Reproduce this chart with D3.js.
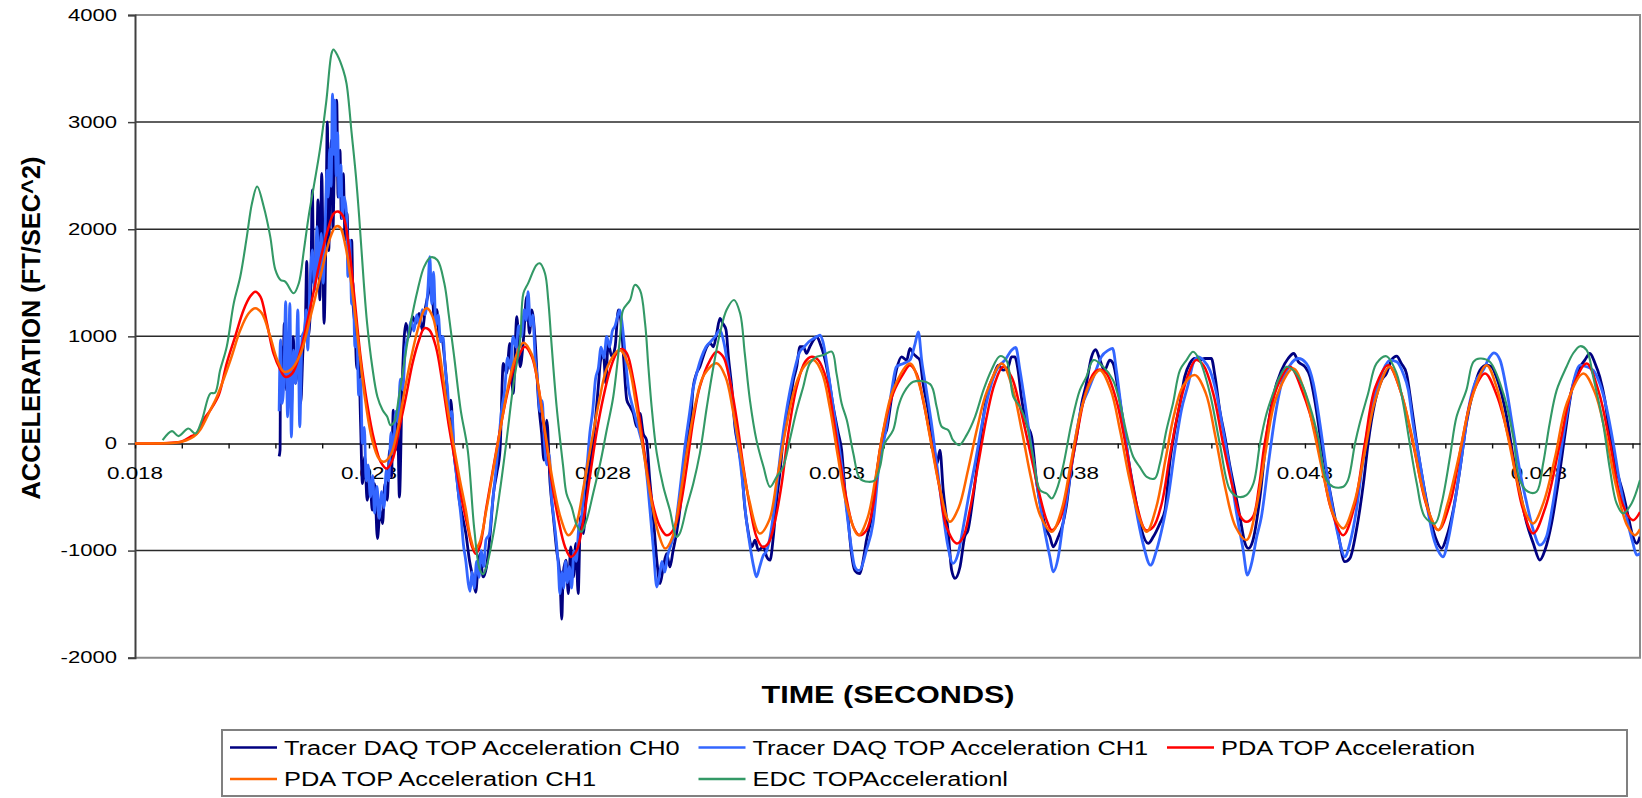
<!DOCTYPE html>
<html>
<head>
<meta charset="utf-8">
<script src="https://cdn.jsdelivr.net/npm/d3@7"></script>
<style>
  html, body { margin: 0; padding: 0; background: #ffffff; }
  svg { display: block; font-family: "Liberation Sans", Arial, Helvetica, sans-serif; }
</style>
</head>
<body>
<svg id="chart" width="1642" height="798"></svg>
<script>
// ---- axis definitions (time in milliseconds, acceleration in ft/s^2) ----
const yTickValues = [-2000, -1000, 0, 1000, 2000, 3000, 4000];
const xTickLabels = ["0.018", "0.023", "0.028", "0.033", "0.038", "0.043", "0.048"];
const xMinorTicks = d3.range(18, 50.5, 1);

const seriesNames = [
  "Tracer DAQ TOP Acceleration CH0",
  "Tracer DAQ TOP Acceleration CH1",
  "PDA TOP Acceleration",
  "PDA TOP Acceleration CH1",
  "EDC TOPAccelerationl"
];
const seriesColors = ["#000080", "#3366ff", "#ff0000", "#ff6600", "#339966"];

// ---- measured traces: [time (ms), acceleration] ----
const tracerCh0 = [
  [21.08,-120],[21.10,-60],[21.11,934],[21.16,561],[21.19,1121],[21.24,498],[21.29,748],[21.34,312],
  [21.38,997],[21.43,561],[21.48,810],[21.54,374],[21.59,872],[21.64,1121],[21.67,1700],[21.70,1000],
  [21.75,1277],[21.79,2367],[21.82,1495],[21.88,1651],[21.91,2274],[21.95,1340],[21.99,2522],[22.04,1121],
  [22.08,1962],[22.11,3002],[22.14,1800],[22.17,2500],[22.20,2831],[22.23,2000],[22.26,2600],[22.31,3205],
  [22.34,2300],[22.38,2738],[22.41,2100],[22.45,2520],[22.49,1900],[22.53,2147],[22.57,1600],[22.63,1898],
  [22.66,1300],[22.70,1100],[22.74,700],[22.78,800],[22.82,200],[22.86,-374],[22.91,-125],[22.96,-530],
  [23.02,-312],[23.07,-623],[23.12,-374],[23.18,-888],[23.24,-623],[23.29,-748],[23.34,-374],[23.39,-530],
  [23.44,-62],[23.48,-312],[23.52,312],[23.57,-62],[23.61,249],[23.65,-500],[23.71,561],[23.79,1121],
  [23.86,997],[23.93,1184],[24.00,1121],[24.07,1215],[24.14,1059],[24.21,1277],[24.29,1433],[24.34,1500],
  [24.39,1184],[24.45,1250],[24.50,997],[24.55,1000],[24.61,810],[24.66,561],[24.71,187],[24.75,405],
  [24.81,-62],[24.86,-249],[24.93,-530],[25.00,-685],[25.07,-841],[25.15,-1100],[25.22,-1250],[25.28,-1390],
  [25.33,-1150],[25.37,-1028],[25.44,-1246],[25.51,-1153],[25.59,-841],[25.66,-467],[25.73,-280],[25.80,-62],
  [25.87,748],[25.94,654],[26.01,934],[26.08,467],[26.16,1184],[26.23,716],[26.30,966],[26.37,1371],
  [26.43,1028],[26.48,1246],[26.55,966],[26.62,405],[26.69,93],[26.74,-156],[26.80,218],[26.87,-374],
  [26.94,-685],[27.01,-997],[27.08,-1246],[27.12,-1640],[27.15,-1215],[27.21,-1090],[27.26,-1402],[27.31,-966],
  [27.37,-1246],[27.42,-934],[27.47,-1402],[27.52,-685],[27.58,-841],[27.64,-467],[27.71,-218],[27.78,-31],
  [27.85,280],[27.90,530],[27.95,779],[28.01,841],[28.06,561],[28.11,934],[28.19,810],[28.26,903],
  [28.33,1246],[28.38,1153],[28.43,872],[28.51,405],[28.58,343],[28.65,280],[28.72,156],[28.79,280],
  [28.86,93],[28.93,31],[29.00,-343],[29.08,-716],[29.15,-1090],[29.22,-1308],[29.29,-1153],[29.36,-1028],
  [29.43,-1153],[29.50,-997],[29.57,-841],[29.65,-592],[29.72,-218],[29.79,31],[29.86,156],[29.93,530],
  [30.00,654],[30.07,716],[30.14,810],[30.22,903],[30.29,934],[30.36,903],[30.43,1028],[30.50,1168],
  [30.56,1121],[30.63,1059],[30.68,810],[30.75,530],[30.82,156],[30.89,-31],[30.96,-218],[31.03,-592],
  [31.11,-841],[31.18,-966],[31.25,-903],[31.32,-997],[31.43,-966],[31.50,-1059],[31.57,-1090],[31.64,-872],
  [31.71,-530],[31.78,-280],[31.85,31],[31.93,218],[32.00,405],[32.07,592],[32.14,716],[32.21,903],
  [32.28,903],[32.35,841],[32.42,903],[32.50,966],[32.57,997],[32.64,934],[32.71,841],[32.82,623],
  [32.92,343],[33.03,93],[33.10,-62],[33.17,-436],[33.24,-716],[33.31,-1028],[33.38,-1184],[33.49,-1215],
  [33.56,-1090],[33.63,-903],[33.74,-685],[33.85,-280],[33.99,62],[34.06,124],[34.17,436],[34.27,684],
  [34.38,809],[34.49,778],[34.56,887],[34.63,840],[34.70,809],[34.77,778],[34.84,560],[34.95,311],
  [35.06,0],[35.14,-187],[35.20,-62],[35.27,-436],[35.38,-840],[35.45,-1182],[35.52,-1260],[35.63,-1151],
  [35.73,-871],[35.80,-809],[35.91,-498],[36.02,-124],[36.13,249],[36.23,498],[36.34,622],[36.45,731],
  [36.55,684],[36.66,716],[36.73,809],[36.80,809],[36.87,684],[36.94,436],[37.05,187],[37.16,62],
  [37.27,-373],[37.37,-622],[37.48,-809],[37.55,-871],[37.62,-964],[37.73,-871],[37.83,-747],[37.91,-560],
  [38.01,-218],[38.12,62],[38.23,373],[38.33,560],[38.44,809],[38.53,877],[38.62,778],[38.72,684],
  [38.83,778],[38.90,747],[39.01,498],[39.12,187],[39.22,-124],[39.37,-498],[39.51,-809],[39.65,-933],
  [39.76,-871],[39.90,-747],[40.01,-622],[40.11,-187],[40.22,124],[40.33,373],[40.43,622],[40.54,747],
  [40.65,793],[40.75,778],[40.86,793],[41.00,793],[41.08,622],[41.18,311],[41.29,62],[41.40,-218],
  [41.50,-436],[41.61,-684],[41.72,-933],[41.79,-980],[41.89,-902],[42.04,-498],[42.18,62],[42.32,436],
  [42.50,684],[42.64,793],[42.76,840],[42.86,762],[43.00,716],[43.11,622],[43.21,404],[43.35,0],
  [43.53,-436],[43.71,-840],[43.85,-1104],[43.96,-1073],[44.10,-809],[44.25,-373],[44.35,0],[44.49,373],
  [44.64,591],[44.74,653],[44.85,778],[44.96,815],[45.06,747],[45.17,653],[45.28,342],[45.39,0],
  [45.53,-373],[45.67,-684],[45.81,-902],[45.92,-980],[46.03,-871],[46.17,-622],[46.31,-249],[46.45,187],
  [46.60,498],[46.74,684],[46.88,731],[46.99,716],[47.09,622],[47.20,467],[47.31,249],[47.45,-124],
  [47.59,-436],[47.74,-747],[47.88,-933],[48.02,-1089],[48.13,-995],[48.27,-747],[48.41,-373],[48.55,62],
  [48.70,498],[48.84,684],[48.98,778],[49.09,840],[49.20,747],[49.30,622],[49.41,404],[49.52,62],
  [49.66,-249],[49.80,-467],[49.91,-684],[50.01,-871],[50.09,-933],[50.16,-871]
];

const tracerCh1 = [
  [21.08,300],[21.11,966],[21.14,374],[21.18,561],[21.22,1324],[21.26,249],[21.31,1308],[21.34,60],
  [21.39,872],[21.43,561],[21.48,1246],[21.52,156],[21.57,997],[21.62,1059],[21.66,1246],[21.69,872],
  [21.74,1495],[21.79,1807],[21.84,1433],[21.89,2025],[21.93,1558],[21.98,1962],[22.02,1495],[22.07,2118],
  [22.10,2550],[22.13,2300],[22.16,2750],[22.19,2400],[22.22,3261],[22.25,2700],[22.27,3205],[22.30,2500],
  [22.33,2900],[22.36,2300],[22.40,2600],[22.43,2100],[22.47,2300],[22.52,2147],[22.55,1558],[22.59,1898],
  [22.63,1300],[22.66,1500],[22.70,900],[22.74,1000],[22.78,450],[22.82,600],[22.86,0],[22.90,150],
  [22.94,-350],[22.98,-200],[23.03,-500],[23.08,-300],[23.12,-650],[23.17,-400],[23.22,-700],[23.27,-450],
  [23.32,-600],[23.37,-250],[23.42,-350],[23.47,100],[23.52,-100],[23.57,300],[23.62,200],[23.67,600],
  [23.72,500],[23.78,900],[23.84,1000],[23.90,1150],[23.96,1050],[24.02,1200],[24.08,1100],[24.14,1250],
  [24.20,1200],[24.26,1450],[24.30,1744],[24.34,1300],[24.38,1600],[24.43,1100],[24.48,1200],[24.53,950],
  [24.58,1000],[24.63,700],[24.68,500],[24.72,250],[24.77,300],[24.82,-100],[24.87,-300],[24.92,-500],
  [24.97,-700],[25.02,-950],[25.07,-1100],[25.12,-1300],[25.16,-1380],[25.20,-1200],[25.25,-1350],[25.30,-1100],
  [25.35,-1250],[25.40,-1000],[25.45,-1150],[25.50,-900],[25.57,-850],[25.63,-600],[25.70,-300],[25.77,0],
  [25.83,300],[25.90,500],[25.96,800],[26.02,700],[26.08,1000],[26.14,900],[26.20,1100],[26.26,1000],
  [26.32,1250],[26.36,1150],[26.40,1417],[26.45,1100],[26.50,1200],[26.55,800],[26.60,600],[26.65,300],
  [26.70,400],[26.75,0],[26.80,-200],[26.85,-100],[26.90,-500],[26.95,-700],[27.00,-900],[27.04,-1100],
  [27.08,-1402],[27.12,-1200],[27.16,-1350],[27.20,-1100],[27.24,-1300],[27.28,-1150],[27.33,-1350],[27.38,-1000],
  [27.43,-1100],[27.48,-800],[27.54,-700],[27.60,-400],[27.66,-200],[27.72,100],[27.78,300],[27.84,600],
  [27.90,700],[27.96,900],[28.02,800],[28.08,1000],[28.14,900],[28.20,1050],[28.26,1100],[28.32,1200],
  [28.36,1246],[28.40,1150],[28.45,950],[28.50,700],[28.55,500],[28.60,400],[28.66,300],[28.72,200],
  [28.78,100],[28.84,0],[28.90,-150],[28.96,-400],[29.02,-700],[29.08,-1000],[29.15,-1340],[29.20,-1250],
  [29.26,-1100],[29.32,-1200],[29.38,-1050],[29.45,-950],[29.52,-850],[29.60,-600],[29.68,-300],[29.76,0],
  [29.84,250],[29.92,500],[30.00,650],[30.10,800],[30.20,900],[30.30,950],[30.40,1000],[30.50,1059],
  [30.58,950],[30.66,750],[30.74,500],[30.82,200],[30.90,-50],[30.98,-350],[31.06,-700],[31.14,-950],
  [31.22,-1150],[31.28,-1246],[31.35,-1150],[31.42,-1050],[31.50,-1000],[31.58,-850],[31.66,-600],[31.74,-300],
  [31.82,0],[31.90,250],[32.00,500],[32.10,700],[32.20,850],[32.30,900],[32.40,950],[32.50,980],
  [32.58,1000],[32.64,1012],[32.70,950],[32.80,700],[32.90,400],[33.00,100],[33.10,-200],[33.20,-600],
  [33.30,-950],[33.38,-1150],[33.45,-1184],[33.49,-1182],[33.63,-995],[33.77,-747],[33.92,-124],[34.02,62],
  [34.17,498],[34.27,716],[34.42,747],[34.56,778],[34.67,933],[34.74,1042],[34.81,778],[34.91,498],
  [35.02,187],[35.13,-187],[35.24,-560],[35.36,-933],[35.48,-1120],[35.59,-1027],[35.70,-778],[35.80,-529],
  [35.95,-187],[36.13,249],[36.30,560],[36.45,716],[36.59,778],[36.73,871],[36.82,896],[36.91,684],
  [37.02,373],[37.12,62],[37.27,-373],[37.41,-747],[37.55,-1058],[37.62,-1198],[37.73,-1058],[37.83,-747],
  [37.94,-436],[38.08,0],[38.23,342],[38.37,498],[38.51,653],[38.65,809],[38.80,871],[38.89,887],
  [38.97,684],[39.08,311],[39.22,-124],[39.37,-560],[39.54,-933],[39.70,-1136],[39.83,-995],[39.97,-747],
  [40.08,-498],[40.22,-62],[40.36,311],[40.51,560],[40.61,747],[40.72,809],[40.83,778],[40.97,684],
  [41.11,467],[41.25,124],[41.40,-249],[41.54,-653],[41.68,-995],[41.77,-1229],[41.86,-1120],[41.97,-871],
  [42.07,-684],[42.22,-187],[42.36,249],[42.50,560],[42.68,731],[42.86,793],[43.03,747],[43.18,560],
  [43.32,187],[43.46,-249],[43.60,-622],[43.75,-933],[43.85,-1058],[43.96,-933],[44.10,-622],[44.25,-124],
  [44.39,249],[44.53,498],[44.67,684],[44.82,778],[44.96,762],[45.10,653],[45.21,498],[45.31,187],
  [45.46,-187],[45.60,-560],[45.74,-871],[45.88,-1027],[45.95,-1058],[46.06,-902],[46.20,-560],[46.35,-124],
  [46.49,311],[46.63,560],[46.81,684],[46.95,809],[47.04,846],[47.17,778],[47.31,498],[47.45,124],
  [47.59,-249],[47.74,-560],[47.88,-809],[48.02,-949],[48.16,-871],[48.30,-560],[48.45,-124],[48.59,249],
  [48.73,560],[48.88,731],[49.02,716],[49.16,684],[49.30,560],[49.44,342],[49.59,0],[49.73,-373],
  [49.87,-684],[50.01,-933],[50.09,-1042],[50.16,-1027]
];

const pdaTop = [
  [18.00,0],[18.70,4],[19.00,18],[19.18,62],[19.32,93],[19.46,218],[19.61,312],[19.79,452],
  [19.96,748],[20.14,997],[20.32,1246],[20.46,1371],[20.57,1417],[20.68,1371],[20.82,1121],[20.96,841],
  [21.11,685],[21.21,623],[21.36,654],[21.54,872],[21.75,1277],[21.96,1713],[22.14,2025],[22.25,2149],
  [22.34,2165],[22.45,2118],[22.57,1838],[22.68,1402],[22.82,810],[22.96,374],[23.11,31],[23.25,-171],
  [23.38,-234],[23.50,-156],[23.64,125],[23.79,436],[23.93,748],[24.07,966],[24.18,1075],[24.29,1059],
  [24.43,903],[24.57,561],[24.71,156],[24.86,-218],[25.00,-561],[25.11,-780],[25.20,-960],[25.28,-1030],
  [25.37,-960],[25.51,-592],[25.66,-218],[25.80,125],[25.94,436],[26.08,685],[26.19,810],[26.33,903],
  [26.48,810],[26.62,530],[26.76,93],[26.90,-343],[27.05,-716],[27.19,-966],[27.31,-1059],[27.44,-997],
  [27.58,-716],[27.72,-312],[27.86,93],[28.01,436],[28.15,685],[28.29,841],[28.40,882],[28.51,841],
  [28.65,592],[28.79,218],[28.93,-218],[29.08,-592],[29.22,-779],[29.36,-857],[29.50,-810],[29.65,-592],
  [29.79,-218],[29.93,218],[30.07,530],[30.29,779],[30.43,857],[30.57,810],[30.71,592],[30.86,218],
  [31.00,-218],[31.14,-592],[31.28,-872],[31.41,-966],[31.53,-934],[31.68,-716],[31.82,-374],[31.96,93],
  [32.14,530],[32.32,763],[32.46,810],[32.60,779],[32.78,592],[32.92,249],[33.06,-156],[33.21,-530],
  [33.35,-779],[33.48,-857],[33.63,-810],[33.78,-560],[33.92,-50],[34.20,467],[34.42,653],[34.56,731],
  [34.70,653],[34.84,404],[35.02,0],[35.20,-436],[35.34,-778],[35.56,-933],[35.70,-871],[35.84,-622],
  [36.02,-187],[36.20,249],[36.37,560],[36.55,716],[36.73,622],[36.91,342],[37.12,-62],[37.34,-498],
  [37.48,-716],[37.59,-809],[37.76,-716],[37.94,-373],[38.12,62],[38.33,498],[38.51,669],[38.62,691],
  [38.76,653],[38.97,404],[39.19,-62],[39.40,-560],[39.60,-809],[39.76,-778],[39.94,-560],[40.11,-124],
  [40.33,373],[40.54,684],[40.67,778],[40.83,731],[41.04,467],[41.25,0],[41.47,-436],[41.62,-680],
  [41.75,-731],[41.89,-684],[42.02,-400],[42.14,0],[42.40,520],[42.68,716],[42.95,480],[43.28,0],
  [43.55,-600],[43.82,-856],[44.05,-600],[44.28,0],[44.50,520],[44.78,731],[45.05,480],[45.31,0],
  [45.60,-580],[45.85,-809],[46.10,-560],[46.35,0],[46.60,480],[46.85,653],[47.10,450],[47.38,0],
  [47.65,-600],[47.88,-840],[48.15,-580],[48.45,0],[48.72,520],[49.02,747],[49.28,480],[49.52,0],
  [49.78,-560],[50.01,-716],[50.16,-640]
];

const pdaTopCh1 = [
  [18.00,0],[18.90,8],[19.10,30],[19.25,62],[19.39,125],[19.61,312],[19.75,436],[20.04,779],
  [20.25,1059],[20.43,1215],[20.57,1262],[20.71,1215],[20.89,997],[21.04,779],[21.18,670],[21.32,685],
  [21.54,841],[21.75,1184],[21.96,1558],[22.18,1931],[22.29,2025],[22.38,2019],[22.50,1838],[22.64,1433],
  [22.79,872],[22.93,374],[23.07,31],[23.21,-140],[23.32,-171],[23.46,-109],[23.61,125],[23.75,467],
  [23.89,779],[24.04,1059],[24.18,1246],[24.24,1262],[24.36,1184],[24.50,872],[24.64,436],[24.79,31],
  [24.93,-312],[25.07,-623],[25.17,-880],[25.26,-990],[25.36,-930],[25.50,-640],[25.65,-260],[25.80,120],
  [25.95,480],[26.10,760],[26.30,941],[26.48,830],[26.62,530],[26.78,60],[26.93,-360],[27.10,-700],
  [27.26,-857],[27.42,-760],[27.58,-420],[27.75,0],[27.92,400],[28.10,720],[28.36,872],[28.55,720],
  [28.70,380],[28.86,-60],[29.02,-500],[29.18,-830],[29.33,-981],[29.48,-880],[29.64,-520],[29.80,-60],
  [29.98,380],[30.16,640],[30.43,748],[30.62,620],[30.78,300],[30.95,-120],[31.12,-520],[31.35,-841],
  [31.55,-720],[31.72,-330],[31.90,120],[32.10,520],[32.30,720],[32.50,779],[32.68,660],[32.85,330],
  [33.02,-120],[33.20,-560],[33.46,-857],[33.65,-700],[33.82,-330],[33.98,100],[34.20,500],[34.56,747],
  [34.78,520],[34.98,80],[35.18,-380],[35.41,-731],[35.60,-600],[35.80,-250],[36.00,150],[36.20,480],
  [36.52,747],[36.75,520],[36.95,120],[37.15,-330],[37.35,-680],[37.59,-824],[37.80,-620],[38.00,-180],
  [38.20,280],[38.40,560],[38.62,684],[38.85,500],[39.05,120],[39.25,-330],[39.45,-680],[39.62,-824],
  [39.82,-600],[40.02,-150],[40.20,260],[40.40,540],[40.65,638],[40.88,470],[41.08,80],[41.30,-420],
  [41.52,-780],[41.75,-902],[41.95,-620],[42.15,-100],[42.38,420],[42.75,700],[42.98,500],[43.20,100],
  [43.42,-350],[43.62,-680],[43.82,-793],[44.05,-560],[44.28,-80],[44.50,400],[44.81,716],[45.05,480],
  [45.28,80],[45.50,-400],[45.70,-700],[45.85,-809],[46.05,-560],[46.30,-100],[46.55,400],[46.88,731],
  [47.10,520],[47.32,100],[47.55,-380],[47.75,-680],[47.88,-747],[48.10,-550],[48.35,-120],[48.60,380],
  [48.95,653],[49.20,470],[49.42,100],[49.65,-400],[49.88,-760],[50.05,-856],[50.16,-800]
];

const edcTop = [
  [18.59,31],[18.79,115],[18.93,69],[19.14,140],[19.29,93],[19.43,218],[19.61,467],[19.71,473],
  [19.82,685],[19.96,903],[20.11,1308],[20.25,1558],[20.39,1931],[20.50,2243],[20.61,2399],[20.75,2212],
  [20.89,1931],[21.00,1620],[21.11,1526],[21.21,1511],[21.39,1402],[21.50,1495],[21.61,1807],[21.71,2118],
  [21.82,2399],[21.95,2738],[22.09,3204],[22.20,3641],[22.24,3678],[22.33,3620],[22.45,3485],[22.52,3361],
  [22.63,2894],[22.72,2500],[22.79,2118],[22.89,1495],[22.96,1121],[23.07,716],[23.18,436],[23.29,312],
  [23.39,249],[23.46,171],[23.54,202],[23.64,436],[23.75,748],[23.89,1121],[24.04,1433],[24.18,1651],
  [24.32,1738],[24.46,1713],[24.61,1495],[24.71,1184],[24.82,810],[24.96,312],[25.11,-62],[25.25,-800],
  [25.37,-1180],[25.44,-1220],[25.51,-1153],[25.66,-841],[25.80,-436],[25.94,31],[26.08,530],[26.23,966],
  [26.30,1402],[26.40,1495],[26.58,1667],[26.65,1682],[26.76,1589],[26.83,1340],[26.90,934],[27.01,343],
  [27.15,-218],[27.22,-467],[27.33,-592],[27.44,-763],[27.54,-825],[27.65,-716],[27.79,-467],[27.94,-187],
  [28.08,125],[28.22,436],[28.36,966],[28.43,1246],[28.58,1340],[28.68,1480],[28.79,1433],[28.90,1121],
  [28.97,716],[29.04,343],[29.15,-93],[29.29,-405],[29.43,-623],[29.57,-872],[29.64,-841],[29.79,-592],
  [29.93,-374],[30.07,-93],[30.22,343],[30.36,716],[30.50,1028],[30.64,1246],[30.80,1340],[30.93,1215],
  [31.03,841],[31.14,405],[31.28,31],[31.43,-218],[31.57,-405],[31.71,-312],[31.85,-218],[31.99,31],
  [32.14,312],[32.28,530],[32.42,748],[32.57,810],[32.71,825],[32.89,857],[32.99,654],[33.10,374],
  [33.21,218],[33.35,-93],[33.49,-327],[33.67,-358],[33.81,-343],[33.92,-218],[34.02,0],[34.20,124],
  [34.31,342],[34.42,467],[34.63,576],[34.99,554],[35.13,342],[35.24,156],[35.38,124],[35.48,31],
  [35.61,-16],[35.77,78],[35.95,249],[36.13,498],[36.30,684],[36.48,815],[36.62,778],[36.77,436],
  [36.91,342],[37.05,187],[37.19,-124],[37.34,-436],[37.48,-467],[37.59,-513],[37.69,-436],[37.83,-218],
  [38.01,187],[38.19,498],[38.33,622],[38.48,778],[38.69,716],[38.90,591],[39.05,373],[39.19,93],
  [39.33,-124],[39.47,-218],[39.62,-311],[39.79,-327],[39.90,-187],[40.04,124],[40.18,373],[40.33,684],
  [40.47,778],[40.61,856],[40.75,778],[40.97,467],[41.18,0],[41.40,-436],[41.57,-498],[41.75,-482],
  [41.90,-373],[42.04,0],[42.18,280],[42.32,467],[42.46,622],[42.61,716],[42.75,684],[42.93,560],
  [43.11,342],[43.28,62],[43.46,-342],[43.60,-404],[43.82,-404],[43.92,-342],[44.07,0],[44.17,187],
  [44.35,467],[44.53,747],[44.74,815],[44.96,653],[45.10,373],[45.24,0],[45.39,-373],[45.56,-684],
  [45.78,-747],[45.92,-560],[46.10,-124],[46.24,249],[46.45,498],[46.60,762],[46.74,793],[46.95,762],
  [47.24,467],[47.45,62],[47.59,-342],[47.77,-451],[47.95,-451],[48.09,-187],[48.23,187],[48.38,498],
  [48.59,716],[48.73,840],[48.88,908],[49.02,871],[49.16,622],[49.37,187],[49.52,-249],[49.66,-560],
  [49.80,-653],[49.98,-560],[50.16,-342]
];

const seriesData = [tracerCh0, tracerCh1, pdaTop, pdaTopCh1, edcTop];

// ---- layout ----
const plot = { left: 135, right: 1640, top: 15, bottom: 657.7 };
const svg = d3.select("#chart");

const x = d3.scaleLinear().domain([18, 50.16]).range([plot.left, plot.right]);
const y = d3.scaleLinear().domain([-2000, 4000]).range([plot.bottom, plot.top]);

// text helper: the chart's lettering is drawn horizontally widened
function wideText(g, str, px, py, opts) {
  return g.append("text")
    .attr("transform", `translate(${px},${py}) scale(${opts.sx || 1},1)`)
    .attr("text-anchor", opts.anchor || "start")
    .attr("font-size", opts.size)
    .attr("font-weight", opts.weight || "normal")
    .attr("fill", "#000")
    .text(str);
}

// gridlines
const grid = svg.append("g");
grid.selectAll("line.g")
  .data(yTickValues.filter(v => v !== 0 && v !== -2000 && v !== 4000))
  .join("line")
  .attr("x1", plot.left).attr("x2", plot.right)
  .attr("y1", d => y(d)).attr("y2", d => y(d))
  .attr("stroke", "#2a2a2a").attr("stroke-width", 1.5);

// plot-area border (top, right, bottom)
grid.append("path")
  .attr("d", `M${plot.left},${y(4000)}H${plot.right}V${y(-2000)}H${plot.left}`)
  .attr("fill", "none").attr("stroke", "#8a8a8a").attr("stroke-width", 2);

// y axis
const yAxisG = svg.append("g")
  .attr("transform", `translate(${plot.left},0)`)
  .call(d3.axisLeft(y).tickValues(yTickValues).tickSize(7).tickFormat(""));
yAxisG.select(".domain").attr("stroke", "#404040").attr("stroke-width", 2);
yAxisG.selectAll(".tick line").attr("stroke", "#404040").attr("stroke-width", 1.5);

// y tick labels
const yLab = svg.append("g");
yTickValues.forEach(v => {
  wideText(yLab, String(v), 117, y(v) + 5.7, { size: 16, sx: 1.38, anchor: "end" });
});

// x axis along zero
const xAxisG = svg.append("g")
  .attr("transform", `translate(0,${y(0)})`)
  .call(d3.axisBottom(x).tickValues(xMinorTicks).tickSize(5).tickSizeOuter(0).tickFormat(""));
xAxisG.select(".domain").attr("stroke", "#111").attr("stroke-width", 1.6);
xAxisG.selectAll(".tick line").attr("stroke", "#111").attr("stroke-width", 1.4);

// x tick labels
const xLab = svg.append("g");
xTickLabels.forEach(lbl => {
  wideText(xLab, lbl, x(parseFloat(lbl) * 1000), 479, { size: 16.5, sx: 1.36, anchor: "middle" });
});

// series
const lineGen = d3.line().x(d => x(d[0])).y(d => y(d[1]));
const curves = [d3.curveMonotoneX, d3.curveMonotoneX,
                d3.curveCatmullRom.alpha(0.5), d3.curveCatmullRom.alpha(0.5), d3.curveCatmullRom.alpha(0.5)];
const widths = [2.8, 2.8, 2.5, 2.5, 2.1];

svg.append("defs").append("clipPath").attr("id", "plotClip")
  .append("rect").attr("x", plot.left).attr("y", plot.top)
  .attr("width", plot.right - plot.left).attr("height", plot.bottom - plot.top);

const seriesG = svg.append("g").attr("clip-path", "url(#plotClip)");
seriesData.forEach((data, i) => {
  seriesG.append("path")
    .datum(data)
    .attr("fill", "none")
    .attr("stroke", seriesColors[i])
    .attr("stroke-width", widths[i])
    .attr("stroke-linejoin", "round")
    .attr("d", lineGen.curve(curves[i]));
});

// axis titles
wideText(svg, "TIME (SECONDS)", 888, 703, { size: 23, sx: 1.33, anchor: "middle", weight: "bold" });
svg.append("text")
  .attr("transform", "translate(40,328) rotate(-90)")
  .attr("text-anchor", "middle")
  .attr("font-size", 25.4)
  .attr("font-weight", "bold")
  .attr("fill", "#000")
  .text("ACCELERATION (FT/SEC^2)");

// legend
const legend = svg.append("g");
legend.append("rect")
  .attr("x", 222).attr("y", 730).attr("width", 1405).attr("height", 66)
  .attr("fill", "#fff").attr("stroke", "#808080").attr("stroke-width", 2);
seriesNames.forEach((name, i) => {
  const col = i % 3, row = Math.floor(i / 3);
  const lx = 230 + col * 468.5;
  const ly = 747.5 + row * 31.5;
  legend.append("line")
    .attr("x1", lx).attr("x2", lx + 47).attr("y1", ly).attr("y2", ly)
    .attr("stroke", seriesColors[i]).attr("stroke-width", 2.4);
  wideText(legend, name, lx + 54, ly + 7.2, { size: 20, sx: 1.27, anchor: "start" });
});
</script>
</body>
</html>
